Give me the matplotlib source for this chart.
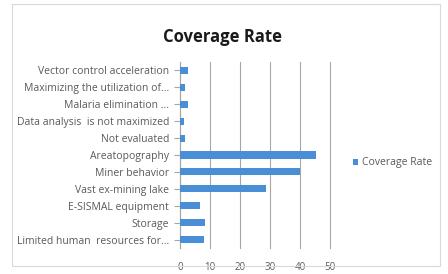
import matplotlib
matplotlib.use("Agg")
import matplotlib.pyplot as plt

categories = ["Vector control acceleration", "Maximizing the utilization of...",
              "Malaria elimination ...", "Data analysis  is not maximized",
              "Not evaluated", "Areatopography", "Miner behavior",
              "Vast ex-mining lake", "E-SISMAL equipment", "Storage",
              "Limited human  resources for..."]
values = [2.6, 1.8, 2.6, 1.3, 1.8, 45.2, 40.0, 28.6, 6.8, 8.4, 8.0]
series_name = "Coverage Rate"
xticks = [0, 10, 20, 30, 40, 50]

plt.rcParams['font.family'] = ['Open Sans', 'DejaVu Sans']

fig = plt.figure(figsize=(4.48, 2.74), dpi=100)
fig.patch.set_facecolor('white')
border = plt.Rectangle((12/448, 8/274), 428/448, 262/274, transform=fig.transFigure,
                       fill=False, edgecolor='#d9d9d9', linewidth=0.8)
fig.add_artist(border)

ax = fig.add_axes([180/448, 1 - 248/274, 150/448, 186/274])
n = len(categories)
pos = list(range(n))[::-1]
ax.barh(pos, values, height=0.42, color='#4a8fd6', label=series_name, zorder=3)
ax.set_yticks(pos)
ax.set_yticklabels(categories, fontsize=7.5, color='#5a5a5a')
ax.set_ylim(-0.5, n - 0.5)
ax.set_xlim(0, 50)
ax.set_xticks(xticks)
ax.set_xticklabels([str(t) for t in xticks], fontsize=7, color='#5a5a5a')
ax.xaxis.grid(True, color='#a6a6a6', linewidth=0.8, zorder=0)
for s in ['top', 'right', 'bottom']:
    ax.spines[s].set_visible(False)
ax.spines['left'].set_color('#a6a6a6')
ax.tick_params(axis='y', length=4, color='#a6a6a6', pad=4)
ax.tick_params(axis='x', length=0, pad=10)
ax.grid(True, axis='x', clip_on=False)

fig.text(222/448, 1 - 37/274, "Coverage Rate", ha='center', va='center',
         fontsize=12, fontweight='bold', color='#1a1a1a')
fig.legend(loc='center left', bbox_to_anchor=(348/448, 1 - 163/274), frameon=False,
           fontsize=7.5, handlelength=0.5, handleheight=0.5, handletextpad=0.3,
           borderpad=0, labelcolor='#5a5a5a')

fig.savefig("out.png", dpi=100)
